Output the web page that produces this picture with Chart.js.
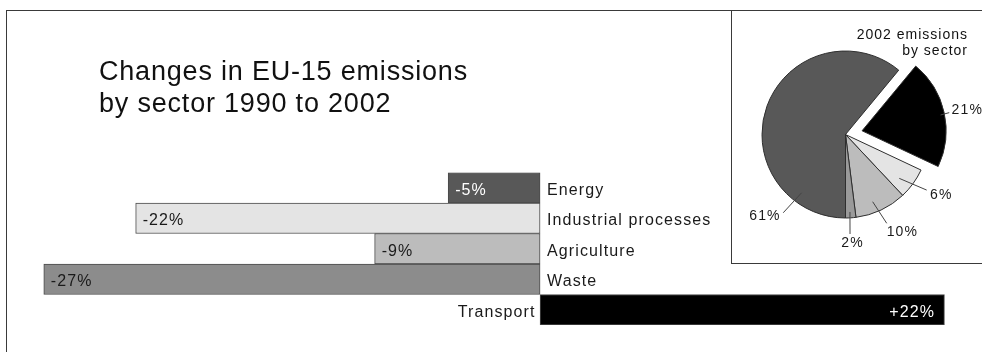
<!DOCTYPE html>
<html>
<head>
<meta charset="utf-8">
<title>Changes in EU-15 emissions by sector 1990 to 2002</title>
<script src="https://cdn.jsdelivr.net/npm/chart.js@4/dist/chart.umd.min.js"></script>
<style>
  html, body { margin: 0; padding: 0; background: #fff; }
  #wrap {
    position: relative; width: 982px; height: 356px; overflow: hidden;
    font-family: 'Liberation Sans', Arial, Helvetica, sans-serif; color: #111;
  }
  canvas { position: absolute; left: 0; top: 0; }
  .rule { position: absolute; background: #3a3a3a; }
  #title {
    position: absolute; left: 99px; top: 54.7px;
    font-size: 27px; line-height: 32px; letter-spacing: 0.8px; white-space: nowrap;
  }
  #pieTitle {
    position: absolute; right: 14px; top: 26.2px;
    font-size: 14px; line-height: 16px; letter-spacing: 1px;
    text-align: right; white-space: nowrap;
  }
</style>
</head>
<body>
<div id="wrap">
  <!-- page frame and inset box for the pie -->
  <div class="rule" style="left:6px;top:10px;width:976px;height:1px"></div>
  <div class="rule" style="left:6px;top:10px;width:1px;height:342px"></div>
  <div class="rule" style="left:731px;top:10px;width:1px;height:253px"></div>
  <div class="rule" style="left:731px;top:263px;width:251px;height:1px"></div>

  <canvas id="bars" width="982" height="356"></canvas>
  <canvas id="pie" width="982" height="356"></canvas>

  <div id="title">Changes in EU-15 emissions<br>by sector 1990 to 2002</div>
  <div id="pieTitle">2002 emissions<br>by sector</div>
</div>

<script>
// Change in emissions 1990-2002, per sector (%)
const sectors = ['Energy', 'Industrial processes', 'Agriculture', 'Waste', 'Transport'];
const change1990to2002 = [-5, -22, -9, -27, 22];
const barColours = ['#585858', '#e4e4e4', '#bcbcbc', '#8c8c8c', '#000000'];

// Share of 2002 emissions, per sector (%)
const pieSectors = ['Energy', 'Transport', 'Industrial processes', 'Agriculture', 'Waste'];
const share2002 = [61, 21, 6, 10, 2];
const pieColours = ['#585858', '#000000', '#e4e4e4', '#bcbcbc', '#9a9a9a'];

const FONT = '"Liberation Sans", Arial, Helvetica, sans-serif';

// light text on dark fills, dark text on light fills
function inkFor(hex) {
  const n = parseInt(hex.slice(1), 16);
  const lum = 0.299 * (n >> 16) + 0.587 * ((n >> 8) & 255) + 0.114 * (n & 255);
  return lum < 128 ? '#ffffff' : '#1a1a1a';
}

// Sector names beside the zero line, values inside the outer end of each bar
const barLabels = {
  id: 'barLabels',
  afterDatasetsDraw(chart) {
    const ctx = chart.ctx;
    const meta = chart.getDatasetMeta(0);
    ctx.save();
    ctx.font = '16px ' + FONT;
    ctx.letterSpacing = '1.1px';
    ctx.textBaseline = 'alphabetic';
    meta.data.forEach((bar, i) => {
      const v = change1990to2002[i];
      const y = bar.y + 7;
      const zero = bar.base;
      ctx.fillStyle = '#1a1a1a';
      if (v < 0) { ctx.textAlign = 'left'; ctx.fillText(sectors[i], zero + 7, y); }
      else { ctx.textAlign = 'right'; ctx.fillText(sectors[i], zero - 4.6, y); }

      const txt = (v > 0 ? '+' : '') + v + '%';
      ctx.fillStyle = inkFor(barColours[i]);
      if (v < 0) { ctx.textAlign = 'left'; ctx.fillText(txt, bar.x + 7, y); }
      else { ctx.textAlign = 'right'; ctx.fillText(txt, bar.x - 9.3, y); }
    });
    ctx.restore();
  }
};

// Leader lines and percentage labels around the pie.
// Angles are degrees clockwise from 12 o'clock, radii in px from the pie centre.
const pieLabelLayout = [
  { a1: 217,   r1: 73,   a2: 218.5, r2: 100,   align: 'right',  dx: -2.6, dy: 7.3 },
  { a1: 78.4,  r1: 97,   a2: 78.1,  r2: 106,   align: 'left',   dx: 2.4,  dy: 1.3 },
  { a1: 129.2, r1: 69.4, a2: 124.4, r2: 98.4,  align: 'left',   dx: 3.3,  dy: 9.3 },
  { a1: 158,   r1: 72.5, a2: 155.1, r2: 97.9,  align: 'left',   dx: 0,    dy: 12.4 },
  { a1: 176.7, r1: 77.6, a2: 177.4, r2: 99.6,  align: 'center', dx: 2.5,  dy: 13 }
];

const pieLabels = {
  id: 'pieLabels',
  afterDatasetsDraw(chart) {
    const ctx = chart.ctx;
    const arcs = chart.getDatasetMeta(0).data;
    const cx = arcs[0].x, cy = arcs[0].y;
    const polar = (deg, r) => {
      const t = deg * Math.PI / 180;
      return [cx + r * Math.sin(t), cy - r * Math.cos(t)];
    };
    ctx.save();
    ctx.font = '14px ' + FONT;
    ctx.letterSpacing = '1.1px';
    ctx.textBaseline = 'alphabetic';
    ctx.strokeStyle = '#444';
    ctx.lineWidth = 1;
    ctx.fillStyle = '#1a1a1a';
    share2002.forEach((v, i) => {
      const L = pieLabelLayout[i];
      const [x1, y1] = polar(L.a1, L.r1);
      const [x2, y2] = polar(L.a2, L.r2);
      ctx.beginPath();
      ctx.moveTo(x1, y1);
      ctx.lineTo(x2, y2);
      ctx.stroke();
      ctx.textAlign = L.align;
      ctx.fillText(v + '%', x2 + L.dx, y2 + L.dy);
    });
    ctx.restore();
  }
};

new Chart(document.getElementById('bars'), {
  type: 'bar',
  data: {
    labels: sectors,
    datasets: [{
      data: change1990to2002,
      backgroundColor: barColours,
      borderColor: '#4a4a4a',
      borderWidth: 1,
      borderSkipped: false,
      barPercentage: 1,
      categoryPercentage: 1
    }]
  },
  options: {
    indexAxis: 'y',
    responsive: false,
    devicePixelRatio: 1,
    animation: false,
    events: [],
    layout: { padding: { left: 25.4, right: 0.8, top: 172.5, bottom: 31 } },
    scales: {
      x: { display: false, min: -28, max: 24 },
      y: { display: false }
    },
    plugins: { legend: { display: false }, tooltip: { enabled: false } }
  },
  plugins: [barLabels]
});

new Chart(document.getElementById('pie'), {
  type: 'pie',
  data: {
    labels: pieSectors,
    datasets: [{
      data: share2002,
      backgroundColor: pieColours,
      borderColor: '#2e2e2e',
      borderWidth: 1,
      offset: [0, 68, 0, 0, 0]
    }]
  },
  options: {
    responsive: false,
    devicePixelRatio: 1,
    animation: false,
    events: [],
    rotation: 180,
    radius: 83.5,
    layout: { padding: { left: 745.5, right: 36.5, top: 34.5, bottom: 121.5 } },
    plugins: { legend: { display: false }, tooltip: { enabled: false } }
  },
  plugins: [pieLabels]
});
</script>
</body>
</html>
